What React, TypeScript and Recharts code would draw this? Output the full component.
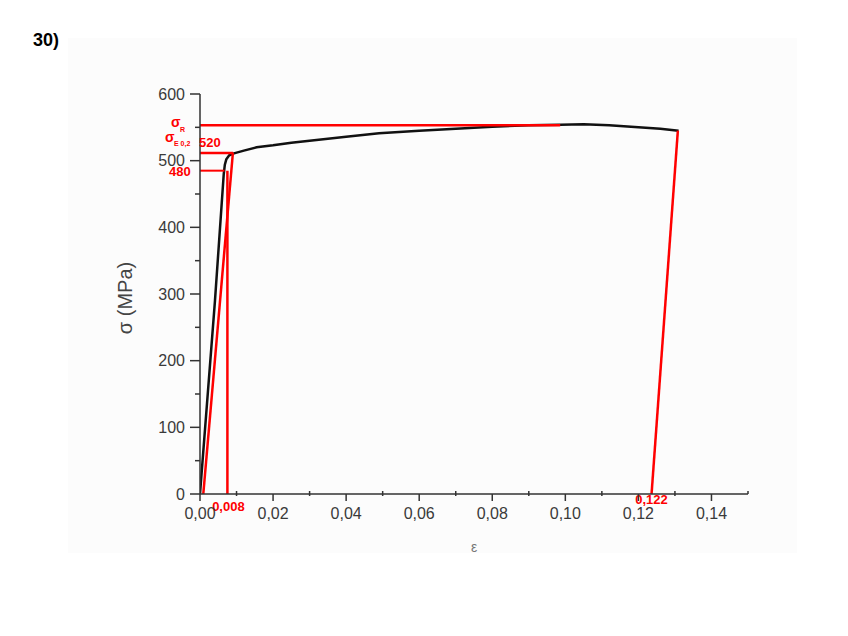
import React from 'react';
import { ComposedChart, Line, XAxis, YAxis, ReferenceDot } from 'recharts';

// Black stress–strain curve
const strain = [0, 0.0041, 0.0065, 0.0068, 0.0072, 0.008, 0.0093, 0.012, 0.0155, 0.02, 0.025, 0.03, 0.04, 0.049, 0.06, 0.07, 0.08, 0.09, 0.0986, 0.105, 0.112, 0.12, 0.126, 0.131];
const stress = [0, 290, 480, 494, 502, 508, 511, 515, 520, 523, 527, 530, 536, 541, 545, 548, 551, 553, 554, 554.5, 553, 550, 548, 545];

// Red construction values
const sigmaR = 553;
const sigmaE = 511.5;
const sigma480 = 485;
const eps008 = 0.0075;
const eps122 = 0.1236;

const lineRStrain = [0, 0.0986];
const lineEStrain = [0, 0.0091];
const line480Strain = [0, 0.0067];
const vert008Strain = [eps008, eps008];
const vert008Stress = [0, sigma480];
const offsetStrain = [0.0009, 0.009];
const offsetStress = [0, sigmaE];
const rightStrain = [eps122, 0.1308];
const rightStress = [0, 545];

const xTicks = [0, 0.01, 0.02, 0.03, 0.04, 0.05, 0.06, 0.07, 0.08, 0.09, 0.1, 0.11, 0.12, 0.13, 0.14, 0.15];
const yTicks = [0, 50, 100, 150, 200, 250, 300, 350, 400, 450, 500, 550, 600];

const pts = (xs: number[], ys: number[]) => xs.map((x, i) => ({ x, y: ys[i] }));
const curve = pts(strain, stress);
const lineR = pts(lineRStrain, [sigmaR, sigmaR]);
const lineE = pts(lineEStrain, [sigmaE, sigmaE]);
const line480 = pts(line480Strain, [sigma480, sigma480]);
const vert008 = pts(vert008Strain, vert008Stress);
const offsetLine = pts(offsetStrain, offsetStress);
const rightLine = pts(rightStrain, rightStress);

const RED = '#ff0000';
const AXIS = '#333';
const TICKTXT = '#3a3a3a';
const TICKFONT = "'Liberation Sans', Arial, sans-serif";

const XTick = (props: any) => {
  const { x, y, payload } = props;
  const v = payload.value as number;
  const major = Math.round(v * 100) % 2 === 0 && v < 0.149;
  const isEnd = v > 0.149;
  if (isEnd) {
    return <line x1={x} x2={x} y1={y - 3} y2={y} stroke={AXIS} strokeWidth={1.5} />;
  }
  return (
    <g>
      <line x1={x} x2={x} y1={major ? y : y - 3} y2={major ? y + 7 : y + 2} stroke={AXIS} strokeWidth={1.5} />
      {major && (
        <text x={x} y={y + 19} dy="0.35em" textAnchor="middle" fill={TICKTXT} fontSize={16} fontFamily={TICKFONT}>
          {v.toFixed(2).replace('.', ',')}
        </text>
      )}
    </g>
  );
};

const YTick = (props: any) => {
  const { x, y, payload } = props;
  const v = payload.value as number;
  const major = v % 100 === 0;
  return (
    <g>
      <line x1={major ? x - 10 : x - 5} x2={x} y1={y} y2={y} stroke={AXIS} strokeWidth={1.5} />
      {major && (
        <text x={x - 15} y={y} dy="0.35em" textAnchor="end" fill={TICKTXT} fontSize={16} fontFamily={TICKFONT}>
          {v}
        </text>
      )}
    </g>
  );
};

const RED_FONT = "'Liberation Sans', Arial, sans-serif";

const makeLabel = (parts: { text: string; dx: number; dy: number; size: number; anchor?: string }[]) => (p: any) => {
  const vb = p.viewBox || {};
  const cx = (vb.x ?? 0) + (vb.width ?? 0) / 2;
  const cy = (vb.y ?? 0) + (vb.height ?? 0) / 2;
  return (
    <g>
      {parts.map((t, i) => (
        <text key={i} x={cx + t.dx} y={cy + t.dy} fill={RED} fontWeight="bold" fontSize={t.size} fontFamily={RED_FONT} textAnchor={t.anchor || 'start'}>
          {t.text}
        </text>
      ))}
    </g>
  );
};

const YLabel = (p: any) => {
  const vb = p.viewBox;
  const x = vb.x - 15;
  const y = vb.y + vb.height / 2 + 4;
  return (
    <text x={x} y={y} transform={`rotate(-90, ${x}, ${y})`} textAnchor="middle" dy="0.35em" fill="#444" fontSize={20} fontFamily={TICKFONT}>
      σ (MPa)
    </text>
  );
};

const XLabel = (p: any) => {
  const vb = p.viewBox;
  return (
    <text x={vb.x + vb.width / 2} y={vb.y + 53} dy="0.35em" textAnchor="middle" fill="#777" fontSize={14} fontFamily={TICKFONT}>
      ε
    </text>
  );
};

export default function App() {
  return (
    <div style={{ position: 'relative', width: 840, height: 620 }}>
      <div style={{ position: 'absolute', left: 60, top: 30, width: 729, height: 515, background: '#fcfcfc' }} />
      <svg style={{ position: 'absolute', left: 0, top: 0 }} width={120} height={60}>
        <text x={25} y={38} fontWeight="bold" fontSize={18} fontFamily={TICKFONT} fill="#000">30)</text>
      </svg>
      <div style={{ position: 'absolute', left: 0, top: 0 }}>
        <ComposedChart width={840} height={620} margin={{ top: 86, right: 100, bottom: 104, left: 132 }}>
          <XAxis
            type="number"
            dataKey="x"
            domain={[0, 0.15]}
            ticks={xTicks}
            interval={0}
            tickSize={0}
            tickMargin={0}
            tickLine={false}
            tick={<XTick />}
            height={30}
            axisLine={{ stroke: AXIS, strokeWidth: 1.5 }}
            allowDataOverflow
            label={<XLabel />}
          />
          <YAxis
            type="number"
            dataKey="y"
            domain={[0, 600]}
            ticks={yTicks}
            interval={0}
            tickSize={0}
            tickMargin={0}
            tickLine={false}
            tick={<YTick />}
            width={60}
            axisLine={{ stroke: AXIS, strokeWidth: 1.5 }}
            allowDataOverflow
            label={<YLabel />}
          />
          <Line data={curve} dataKey="y" type="linear" stroke="#111" strokeWidth={2.5} dot={false} isAnimationActive={false} />
          <Line data={lineR} dataKey="y" type="linear" stroke={RED} strokeWidth={2.5} dot={false} isAnimationActive={false} />
          <Line data={lineE} dataKey="y" type="linear" stroke={RED} strokeWidth={2.5} dot={false} isAnimationActive={false} />
          <Line data={line480} dataKey="y" type="linear" stroke={RED} strokeWidth={2} dot={false} isAnimationActive={false} />
          <Line data={vert008} dataKey="y" type="linear" stroke={RED} strokeWidth={2.5} dot={false} isAnimationActive={false} />
          <Line data={offsetLine} dataKey="y" type="linear" stroke={RED} strokeWidth={2.5} dot={false} isAnimationActive={false} />
          <Line data={rightLine} dataKey="y" type="linear" stroke={RED} strokeWidth={2.5} dot={false} isAnimationActive={false} />
          <ReferenceDot x={0} y={sigmaR} r={0} fill="none" stroke="none" ifOverflow="visible"
            label={makeLabel([{ text: 'σ', dx: -29, dy: 2, size: 14 }, { text: 'R', dx: -20, dy: 6.5, size: 7 }])} />
          <ReferenceDot x={0} y={sigmaE} r={0} fill="none" stroke="none" ifOverflow="visible"
            label={makeLabel([
              { text: 'σ', dx: -35, dy: -11, size: 14 },
              { text: 'E 0,2', dx: -26, dy: -7, size: 7 },
              { text: '520', dx: -1, dy: -6, size: 13 },
            ])} />
          <ReferenceDot x={0} y={sigma480} r={0} fill="none" stroke="none" ifOverflow="visible"
            label={makeLabel([{ text: '480', dx: -31, dy: 5.5, size: 13 }])} />
          <ReferenceDot x={eps008} y={0} r={0} fill="none" stroke="none" ifOverflow="visible"
            label={makeLabel([{ text: '0,008', dx: 1, dy: 17, size: 13, anchor: 'middle' }])} />
          <ReferenceDot x={eps122} y={0} r={0} fill="none" stroke="none" ifOverflow="visible"
            label={makeLabel([{ text: '0,122', dx: 0, dy: 10, size: 13, anchor: 'middle' }])} />
        </ComposedChart>
      </div>
    </div>
  );
}
